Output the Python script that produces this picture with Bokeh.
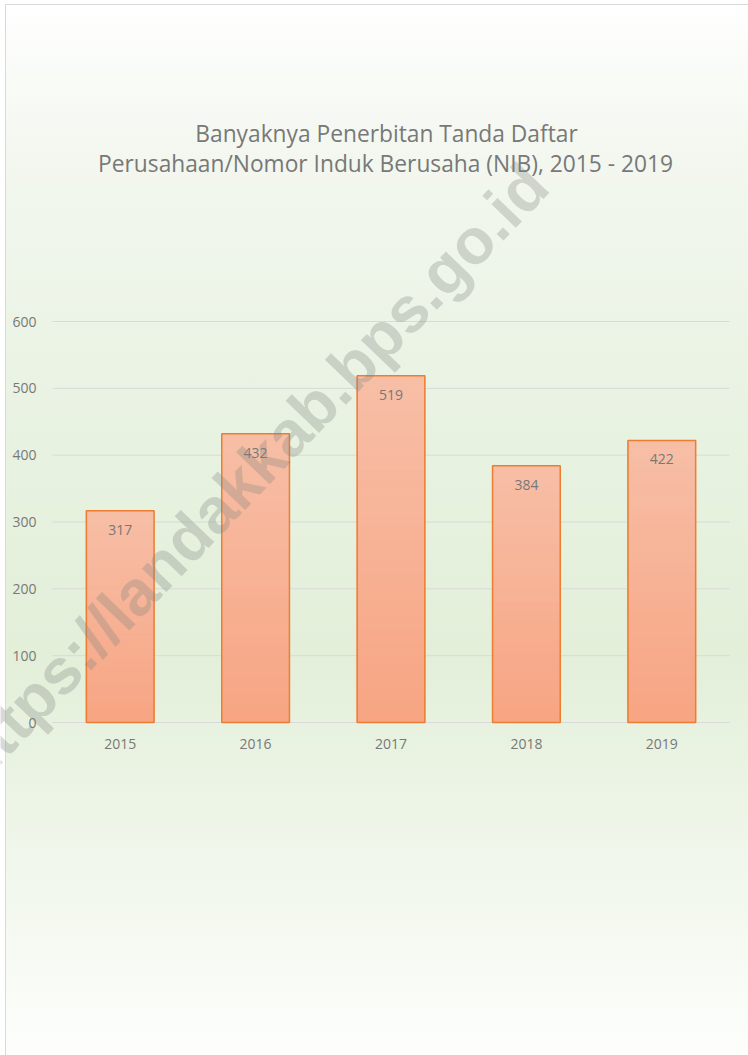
from bokeh.plotting import figure
from bokeh.models import Range1d, Label, ColumnDataSource, FixedTicker
from bokeh.embed import file_html
from bokeh.resources import INLINE
from bokeh.core.properties import value

years = ["2015", "2016", "2017", "2018", "2019"]
counts = [317, 432, 519, 384, 422]
y_ticks = [0, 100, 200, 300, 400, 500, 600]
title_lines = ["Banyaknya Penerbitan Tanda Daftar",
               "Perusahaan/Nomor Induk Berusaha (NIB), 2015 - 2019"]
watermark = "https://landakkab.bps.go.id"

FONT = "Open Sans"
GRAY = "#787878"
W, H = 748, 1055
# plot area inside the canvas (pixels): left, right, top, bottom
AL, AR, AT, AB = 52, 729, 321, 722
YMAX = 600

n = len(years)
xpos = [i + 0.5 for i in range(n)]
xu = n / (AR - AL)            # data units per pixel
yu = YMAX / (AB - AT)

p = figure(width=W, height=H,
           x_range=Range1d(-AL * xu, n + (W - AR) * xu),
           y_range=Range1d(-(H - AB) * yu, YMAX + AT * yu),
           output_backend="svg", toolbar_location=None,
           min_border=0, min_border_left=0, min_border_right=0,
           min_border_top=0, min_border_bottom=0)
p.title = None
p.background_fill_color = None
p.border_fill_color = None
p.outline_line_color = None
p.styles = {
    "background": "linear-gradient(to bottom, #ffffff 0%, #f3f7ef 15%, #eaf3e4 35%, #e3efd9 62%, #fdfefc 100%)",
    "box-shadow": "inset 5px 4px 0 #ffffff, inset 6px 5px 0 #d9d9d9",
}
p.xgrid.grid_line_color = None
p.ygrid.grid_line_color = None

# horizontal gridlines across the category span
p.segment(x0=[0] * len(y_ticks), x1=[n] * len(y_ticks), y0=y_ticks, y1=y_ticks,
          line_color="#d9d9d9", line_width=1)

# gradient bars: slices derived from each value
N = 30
top_c = (248, 191, 167)
bot_c = (247, 165, 131)
xs, bots, tops, cols = [], [], [], []
for xp, v in zip(xpos, counts):
    for k in range(N):
        t = (k + 0.5) / N
        r = int(bot_c[0] + (top_c[0] - bot_c[0]) * t)
        g = int(bot_c[1] + (top_c[1] - bot_c[1]) * t)
        b = int(bot_c[2] + (top_c[2] - bot_c[2]) * t)
        xs.append(xp)
        bots.append(v * k / N)
        tops.append(v * (k + 1) / N)
        cols.append("#%02x%02x%02x" % (r, g, b))
p.vbar(x=xs, bottom=bots, top=tops, width=0.5, fill_color=cols, line_color=cols, line_width=1)

src = ColumnDataSource(dict(x=xpos, y=counts, t=[str(c) for c in counts]))
p.vbar(x="x", top="y", width=0.5, source=src, fill_color=None, line_color="#ED7D31", line_width=1.5)
p.text(x="x", y="y", text="t", source=src, y_offset=19, text_align="center",
       text_baseline="middle", text_font=value(FONT), text_font_size="14px", text_color=GRAY)

# axes pinned to the plot area edges
p.yaxis.fixed_location = 0
p.yaxis.ticker = FixedTicker(ticks=y_ticks, minor_ticks=[])
p.yaxis.major_label_standoff = 16
p.xaxis.fixed_location = 0
p.xaxis.ticker = FixedTicker(ticks=xpos, minor_ticks=[])
p.xaxis.major_label_overrides = {xp: yr for xp, yr in zip(xpos, years)}
p.xaxis.major_label_standoff = 16
for ax in (p.xaxis, p.yaxis):
    ax.axis_line_color = None
    ax.major_tick_line_color = None
    ax.minor_tick_line_color = None
    ax.major_tick_out = 0
    ax.major_tick_in = 0
    ax.major_label_text_font = FONT
    ax.major_label_text_font_size = "14px"
    ax.major_label_text_color = GRAY

# title lines
p.add_layout(Label(x=386, y=H - 133, x_units="screen", y_units="screen", text=title_lines[0],
                   text_align="center", text_baseline="middle", text_font=FONT,
                   text_font_size="22.75px", text_color=GRAY))
p.add_layout(Label(x=385, y=H - 163, x_units="screen", y_units="screen", text=title_lines[1],
                   text_align="center", text_baseline="middle", text_font=FONT,
                   text_font_size="22.75px", text_color=GRAY))

# watermark
p.add_layout(Label(x=249, y=H - 473, x_units="screen", y_units="screen", text=watermark,
                   angle=0.806, text_align="center", text_baseline="alphabetic",
                   text_font="Liberation Sans", text_font_style="bold",
                   text_font_size="64px", text_color="#7f857d", text_alpha=0.3))

open("out.html", "w").write(file_html(p, INLINE))
